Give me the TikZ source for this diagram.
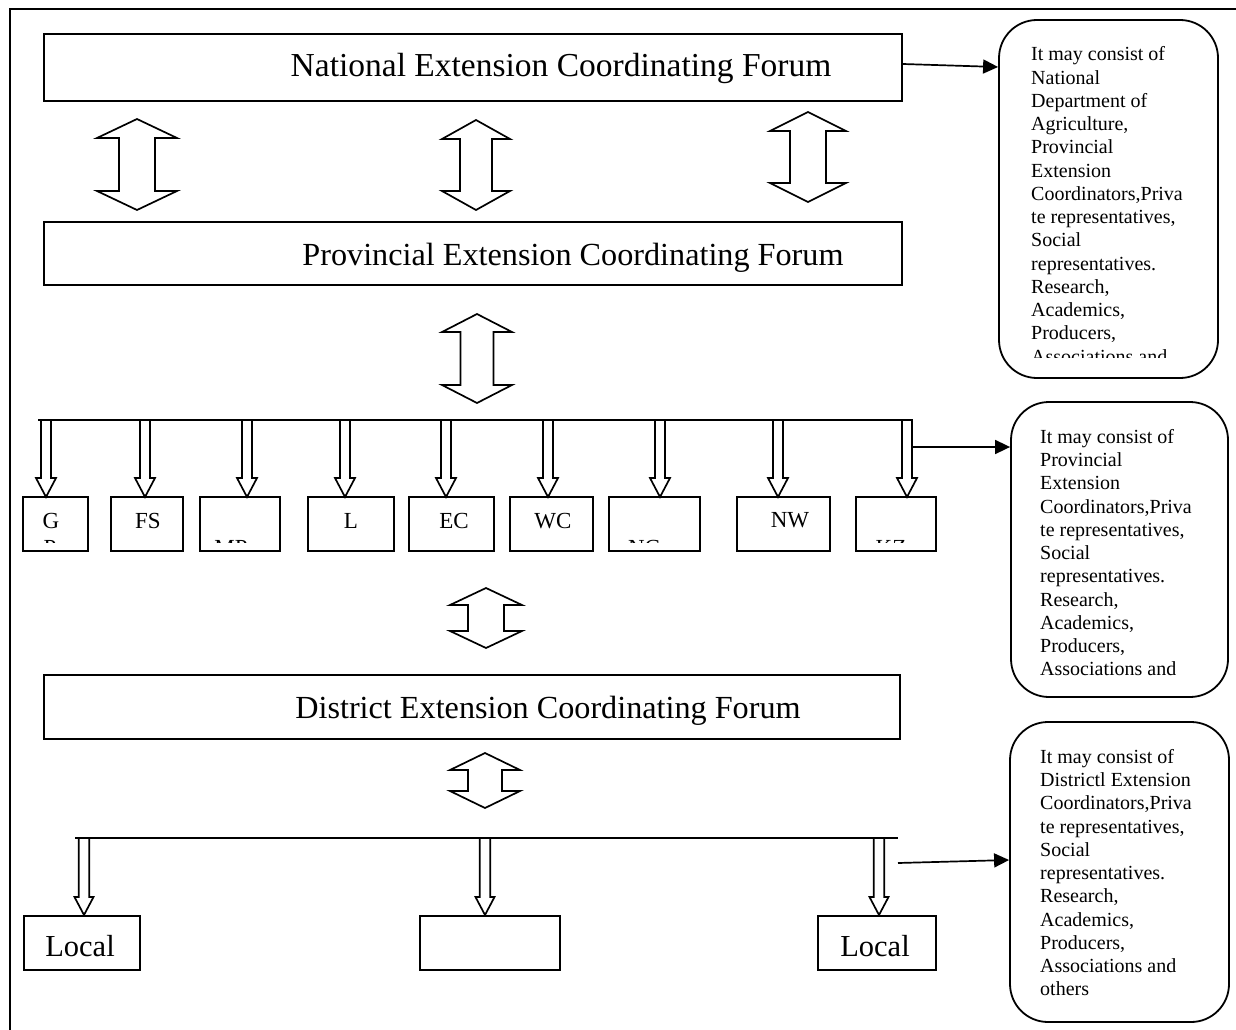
\documentclass[tikz,border=0pt]{standalone}
\usepackage{fontspec}
\setmainfont{Liberation Serif}
\usetikzlibrary{arrows.meta}
\tikzset{
  box/.style={draw, line width=1.8pt, inner sep=0pt},
  rbox/.style={draw, line width=1.8pt, inner sep=0pt, rounded corners=38pt},
  blockarrow/.style={draw, line width=1.7pt, fill=white, line join=miter},
  bus/.style={line width=1.7pt},
  conn/.style={line width=1.7pt, -{Triangle[length=15pt,width=14pt]}},
  titletext/.style={anchor=base, inner sep=0pt},
  provtext/.style={anchor=base, inner sep=0pt, font=\fontsize{23}{26}\selectfont},
  localtext/.style={anchor=base, inner sep=0pt, font=\fontsize{30.5}{34}\selectfont},
  notetext/.style={anchor=north west, inner sep=0pt, align=left, font=\fontsize{20}{23.25}\selectfont},
}
% up-down block arrow: x, ytop, ybot, head half width, shaft half width, head length
\newcommand\UDArr[6]{%
  \draw[blockarrow] (#1,#2) -- (#1+#4,#2+#6) -- (#1+#5,#2+#6) -- (#1+#5,#3-#6) -- (#1+#4,#3-#6) -- (#1,#3)
   -- (#1-#4,#3-#6) -- (#1-#5,#3-#6) -- (#1-#5,#2+#6) -- (#1-#4,#2+#6) -- cycle;}
% down block arrow: x, ytop, ytip, head half width, shaft half width, head length
\newcommand\DnArr[6]{%
  \draw[blockarrow] (#1-#5,#2) -- (#1-#5,#3-#6) -- (#1-#4,#3-#6) -- (#1,#3) -- (#1+#4,#3-#6) -- (#1+#5,#3-#6) -- (#1+#5,#2) -- cycle;}
\begin{document}
\begin{tikzpicture}[x=1pt,y=-1pt]
\useasboundingbox (0,0) rectangle (1236,1030);
% outer frame
\draw[line width=1.8pt] (10,1040) -- (10,9) -- (1246,9);

% main boxes
\node[box, minimum width=858pt, minimum height=67pt] (nat) at (473,67.5) {};
\node[titletext, font=\fontsize{33.5}{38}\selectfont] at (561,77) {National Extension Coordinating Forum};
\node[box, minimum width=858pt, minimum height=63pt] (prov) at (473,253.5) {};
\node[titletext, font=\fontsize{32.2}{38}\selectfont] at (573,265) {Provincial Extension Coordinating Forum};
\node[box, minimum width=856pt, minimum height=64pt] (dist) at (472,707) {};
\node[titletext, font=\fontsize{32.2}{38}\selectfont] at (548,718) {District Extension Coordinating Forum};

% up-down arrows
\UDArr{137}{119}{210}{40}{18}{19}
\UDArr{476}{120}{210}{34}{16}{19}
\UDArr{808}{112}{202}{38}{18}{19}
\UDArr{477}{314}{403}{35}{16.5}{18}
\UDArr{486}{588}{648}{36}{18}{17}
\UDArr{485}{753}{808}{35}{17}{17}

% province bus
\draw[bus] (38,420) -- (912,420);
\foreach \x in {46,145,247,345,446,548,660,778,907}{\DnArr{\x}{420}{497}{10}{5}{19}}

% province boxes
\node[box, minimum width=65pt, minimum height=54pt] (gp) at (55.5,524) {};
\node[box, minimum width=72pt, minimum height=54pt] (fs) at (147,524) {};
\node[box, minimum width=80pt, minimum height=54pt] (mp) at (240,524) {};
\node[box, minimum width=86pt, minimum height=54pt] (l) at (351,524) {};
\node[box, minimum width=85pt, minimum height=54pt] (ec) at (451.5,524) {};
\node[box, minimum width=83pt, minimum height=54pt] (wc) at (551.5,524) {};
\node[box, minimum width=91pt, minimum height=54pt] (nc) at (654.5,524) {};
\node[box, minimum width=93pt, minimum height=54pt] (nw) at (783.5,524) {};
\node[box, minimum width=80pt, minimum height=54pt] (kz) at (896,524) {};
\begin{scope}
  \clip (0,499) rectangle (1000,542);
  \node[provtext] at (51,528) {G};
  \node[provtext] at (50,555) {P};
  \node[provtext] at (148,528) {FS};
  \node[provtext] at (231,555) {MP};
  \node[provtext] at (351,528) {L};
  \node[provtext] at (454,528) {EC};
  \node[provtext] at (553,528) {WC};
  \node[provtext] at (644,555) {NC};
  \node[provtext] at (790,527) {NW};
  \node[provtext] at (891,555) {KZ};
\end{scope}

% district bus
\draw[bus] (75,838) -- (898,838);
\foreach \x in {84,485,879}{\DnArr{\x}{838}{915}{9.5}{5.3}{18}}
\node[box, minimum width=116pt, minimum height=54pt] (loc1) at (82,943) {};
\node[localtext] at (80,956) {Local};
\node[box, minimum width=140pt, minimum height=54pt] (loc2) at (490,943) {};
\node[box, minimum width=118pt, minimum height=54pt] (loc3) at (877,943) {};
\node[localtext] at (875,956) {Local};

% right note boxes
\node[rbox, minimum width=219pt, minimum height=358pt] (r1) at (1108.5,199) {};
\begin{scope}
  \clip (1000,21) rectangle (1218,357);
  \node[notetext] at (1031,46.5) {It may consist of\\National\\Department of\\Agriculture,\\Provincial\\Extension\\Coordinators,Priva\\te representatives,\\Social\\representatives.\\Research,\\Academics,\\Producers,\\Associations and};
\end{scope}
\node[rbox, minimum width=217pt, minimum height=295pt] (r2) at (1119.5,549.5) {};
\node[notetext] at (1040,429) {It may consist of\\Provincial\\Extension\\Coordinators,Priva\\te representatives,\\Social\\representatives.\\Research,\\Academics,\\Producers,\\Associations and};
\node[rbox, minimum width=219pt, minimum height=300pt] (r3) at (1119.5,872) {};
\node[notetext] at (1040,749) {It may consist of\\Districtl Extension\\Coordinators,Priva\\te representatives,\\Social\\representatives.\\Research,\\Academics,\\Producers,\\Associations and\\others};

% connectors to notes
\coordinate (kzs) at (912,447);
\coordinate (dbs) at (898,863);
\draw[conn] (nat.east |- 0,64) -- (r1.west |- 0,67);
\draw[conn] (kzs) -- (r2.west |- 0,447);
\draw[conn] (dbs) -- (r3.west |- 0,860);
\end{tikzpicture}
\end{document}
